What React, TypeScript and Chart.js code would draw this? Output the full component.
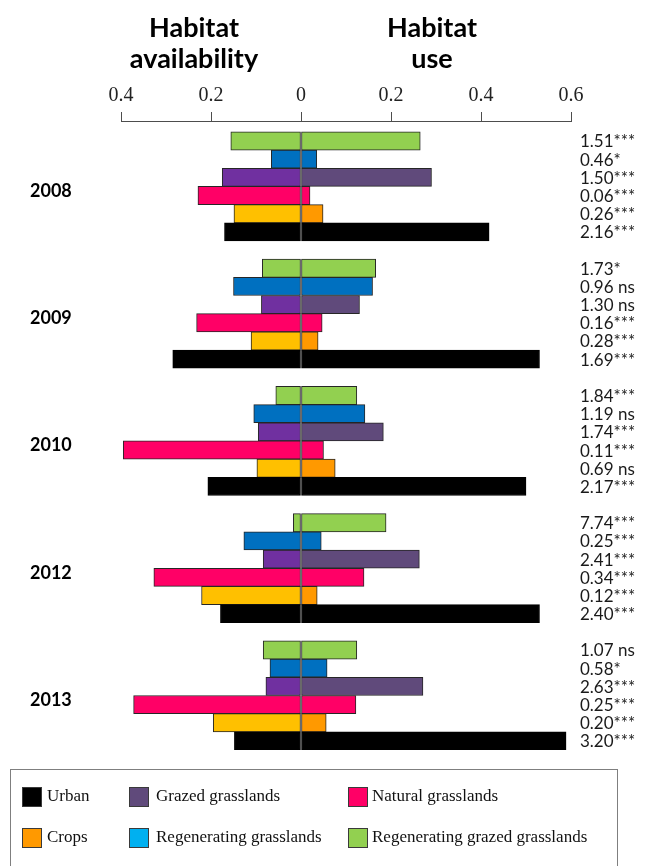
import React, { useEffect, useRef } from 'react';
import { Chart, registerables } from 'chart.js';

Chart.register(...registerables);

// ---- data ----
const years = ['2008', '2009', '2010', '2012', '2013'];
const habitats = [
  'Regenerating grazed grasslands',
  'Regenerating grasslands',
  'Grazed grasslands',
  'Natural grasslands',
  'Crops',
  'Urban',
];

const xTickValues = [-0.4, -0.2, 0, 0.2, 0.4, 0.6];
const xTickLabels = ['0.4', '0.2', '0', '0.2', '0.4', '0.6'];

const availability2008 = [0.156, 0.066, 0.175, 0.229, 0.149, 0.17];
const use2008 = [0.265, 0.035, 0.29, 0.02, 0.049, 0.418];
const availability2009 = [0.086, 0.15, 0.088, 0.232, 0.111, 0.285];
const use2009 = [0.166, 0.159, 0.13, 0.047, 0.038, 0.53];
const availability2010 = [0.056, 0.105, 0.095, 0.395, 0.098, 0.207];
const use2010 = [0.124, 0.142, 0.183, 0.05, 0.076, 0.5];
const availability2012 = [0.017, 0.127, 0.084, 0.327, 0.221, 0.179];
const use2012 = [0.189, 0.045, 0.263, 0.14, 0.036, 0.53];
const availability2013 = [0.084, 0.069, 0.078, 0.372, 0.195, 0.148];
const use2013 = [0.124, 0.058, 0.271, 0.122, 0.056, 0.589];

const ratio2008 = ['1.51***', '0.46*', '1.50***', '0.06***', '0.26***', '2.16***'];
const ratio2009 = ['1.73*', '0.96 ns', '1.30 ns', '0.16***', '0.28***', '1.69***'];
const ratio2010 = ['1.84***', '1.19 ns', '1.74***', '0.11***', '0.69 ns', '2.17***'];
const ratio2012 = ['7.74***', '0.25***', '2.41***', '0.34***', '0.12***', '2.40***'];
const ratio2013 = ['1.07 ns', '0.58*', '2.63***', '0.25***', '0.20***', '3.20***'];

const availabilityColors = ['#92d050', '#0070c0', '#7030a0', '#ff0066', '#ffc000', '#000000'];
const useColors = ['#92d050', '#0070c0', '#604a7b', '#ff0066', '#ff9900', '#000000'];

const legendLabels = [
  'Urban',
  'Grazed grasslands',
  'Natural grasslands',
  'Crops',
  'Regenerating grasslands',
  'Regenerating grazed grasslands',
];
const legendColors = ['#000000', '#604a7b', '#ff0066', '#ff9900', '#00b0f0', '#92d050'];

// ---- derived ----
const availabilityByYear = [availability2008, availability2009, availability2010, availability2012, availability2013];
const useByYear = [use2008, use2009, use2010, use2012, use2013];
const ratiosByYear = [ratio2008, ratio2009, ratio2010, ratio2012, ratio2013];
const ROWS_PER_YEAR = habitats.length + 1;

function buildPoints(source: number[][], sign: number) {
  const pts: { x: number; y: number }[] = [];
  source.forEach((vals, g) => {
    vals.forEach((v, h) => pts.push({ x: sign * v, y: g * ROWS_PER_YEAR + h }));
  });
  return pts;
}
function buildColors(cols: string[]) {
  const out: string[] = [];
  years.forEach(() => cols.forEach((c) => out.push(c)));
  return out;
}
function buildBorders(cols: string[]) {
  const out: string[] = [];
  years.forEach(() => cols.forEach((c) => out.push(c === '#000000' ? '#000000' : '#262626')));
  return out;
}

const labelPlugin = {
  id: 'sideLabels',
  afterDatasetsDraw(chart: any) {
    const { ctx } = chart;
    const x = chart.scales.x;
    const y = chart.scales.y;
    ctx.save();
    ctx.textBaseline = 'middle';
    ctx.textAlign = 'left';
    years.forEach((yr, g) => {
      ctx.fillStyle = '#000';
      ctx.font = 'bold 18px Lato';
      ctx.fillText(yr, 30, y.getPixelForValue(g * ROWS_PER_YEAR + 2.75));
      ctx.font = '17px Lato';
      ctx.fillStyle = '#1a1a1a';
      ratiosByYear[g].forEach((r, h) => {
        ctx.fillText(r, x.getPixelForValue(0.62), y.getPixelForValue(g * ROWS_PER_YEAR + h) + 1);
      });
    });
    ctx.restore();
  },
};

export default function App() {
  const canvasRef = useRef<HTMLCanvasElement | null>(null);

  useEffect(() => {
    if (!canvasRef.current) return;
    const chart = new Chart(canvasRef.current, {
      type: 'bar',
      data: {
        datasets: [
          {
            label: 'Habitat availability',
            data: buildPoints(availabilityByYear, -1) as any,
            backgroundColor: buildColors(availabilityColors),
            borderColor: buildBorders(availabilityColors),
            borderWidth: 1,
            borderSkipped: false,
            grouped: false,
            barPercentage: 1,
            categoryPercentage: 1,
          } as any,
          {
            label: 'Habitat use',
            data: buildPoints(useByYear, 1) as any,
            backgroundColor: buildColors(useColors),
            borderColor: buildBorders(useColors),
            borderWidth: 1,
            borderSkipped: false,
            grouped: false,
            barPercentage: 1,
            categoryPercentage: 1,
          } as any,
        ],
      },
      options: {
        indexAxis: 'y',
        animation: false,
        responsive: true,
        maintainAspectRatio: false,
        layout: { padding: { left: 121, right: 77, top: 81, bottom: 116 } },
        plugins: { legend: { display: false }, tooltip: { enabled: false } },
        scales: {
          x: {
            type: 'linear',
            position: 'top',
            min: -0.4,
            max: 0.6,
            afterBuildTicks: (s: any) => {
              s.ticks = xTickValues.map((v) => ({ value: v }));
            },
            afterFit: (s: any) => {
              s.height = 40;
            },
            grid: { drawOnChartArea: false, drawTicks: true, tickLength: 9, color: '#4d4d4d' },
            border: { display: true, color: '#4d4d4d', width: 1 },
            ticks: {
              padding: 4,
              color: '#222',
              font: { family: 'Liberation Serif', size: 20 },
              callback: (_v: any, i: number) => xTickLabels[i],
              maxRotation: 0,
              autoSkip: false,
            },
          },
          y: {
            type: 'linear',
            reverse: true,
            offset: false,
            display: false,
            min: -1.1,
            max: (years.length - 1) * ROWS_PER_YEAR + habitats.length - 0.5,
            afterBuildTicks: (s: any) => {
              s.ticks = [];
            },
          },
        },
      } as any,
      plugins: [labelPlugin],
    });
    return () => chart.destroy();
  }, []);

  const headingStyle: React.CSSProperties = {
    position: 'absolute',
    top: 11,
    width: 220,
    textAlign: 'center',
    fontFamily: 'Lato',
    fontWeight: 'bold',
    fontSize: 27,
    lineHeight: '31px',
    color: '#000',
  };

  const legendPos = [
    { sx: 22, tx: 47, row: 0 },
    { sx: 129, tx: 156, row: 0 },
    { sx: 348, tx: 372, row: 0 },
    { sx: 22, tx: 47, row: 1 },
    { sx: 129, tx: 156, row: 1 },
    { sx: 348, tx: 372, row: 1 },
  ];
  const rowY = [797, 838];

  return (
    <div style={{ position: 'absolute', left: 0, top: 0, width: 648, height: 866, overflow: 'hidden', background: '#fff' }}>
      <div style={{ position: 'absolute', left: 0, top: 0, width: 648, height: 866 }}>
        <canvas ref={canvasRef} />
      </div>
      <div style={{ ...headingStyle, left: 194 - 110 }}>
        Habitat
        <br />
        availability
      </div>
      <div style={{ ...headingStyle, left: 432 - 110 }}>
        Habitat
        <br />
        use
      </div>
      <div
        style={{
          position: 'absolute',
          left: 10,
          top: 769,
          width: 606,
          height: 110,
          border: '1px solid #7f7f7f',
        }}
      />
      {legendLabels.map((lab, i) => (
        <React.Fragment key={lab}>
          <div
            style={{
              position: 'absolute',
              left: legendPos[i].sx,
              top: rowY[legendPos[i].row] - 10,
              width: 18,
              height: 18,
              background: legendColors[i],
              border: '1px solid #3a3a3a',
            }}
          />
          <div
            style={{
              position: 'absolute',
              left: legendPos[i].tx,
              top: rowY[legendPos[i].row] - 12,
              fontFamily: 'Liberation Serif',
              fontSize: 17,
              lineHeight: '22px',
              whiteSpace: 'nowrap',
              color: '#111',
            }}
          >
            {lab}
          </div>
        </React.Fragment>
      ))}
    </div>
  );
}
